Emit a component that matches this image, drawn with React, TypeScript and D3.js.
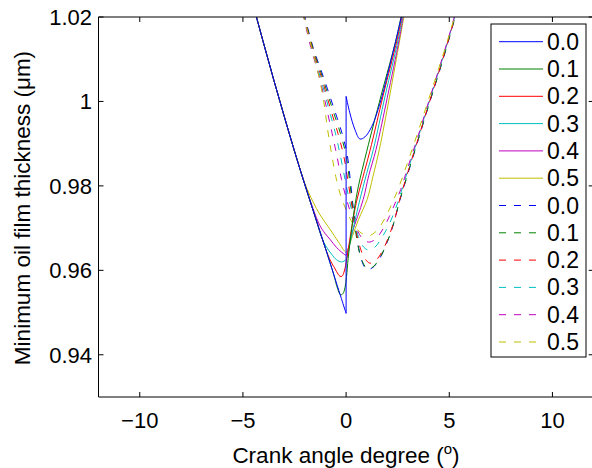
import React from 'react';
import * as d3 from 'd3';

const W = 592;
const H = 468;

const xTicks = [-10, -5, 0, 5, 10];
const xTickLabels = ['\u221210', '\u22125', '0', '5', '10'];
const yTicks = [0.94, 0.96, 0.98, 1.0, 1.02];
const yTickLabels = ['0.94', '0.96', '0.98', '1', '1.02'];
const legendLabels = ['0.0', '0.1', '0.2', '0.3', '0.4', '0.5'];
const seriesColors = ['#0000ff', '#008000', '#ff0000', '#00bfbf', '#bf00bf', '#bfbf00'];

// Solid curves
const solid00 = [[-4.5, 1.0228], [-4.0, 1.0138], [-3.5, 1.005], [-3.0, 0.9965], [-2.5, 0.9882], [-2.0, 0.9803], [-1.5, 0.9727], [-1.0, 0.9652], [-0.5, 0.9575], [0, 0.9498], [0, 1.0012], [0.18, 0.9973], [0.43, 0.9933], [0.67, 0.9911], [0.91, 0.9916], [1.24, 0.994], [1.64, 0.9995], [2.0, 1.0062], [2.35, 1.0132], [2.7, 1.0205]];
const solid01 = [[-4.5, 1.0228], [-4.0, 1.0138], [-3.5, 1.005], [-3.0, 0.9965], [-2.5, 0.9882], [-2.0, 0.9803], [-1.5, 0.9727], [-1.0, 0.9652], [-0.6, 0.959], [-0.42, 0.9558], [-0.27, 0.9542], [-0.15, 0.9545], [-0.05, 0.956], [0.02, 0.9585], [0.1, 0.9628], [0.25, 0.969], [0.4, 0.9745], [0.6, 0.98], [1.0, 0.9882], [1.7, 1.0015], [2.42, 1.0146], [2.68, 1.0205]];
const solid02 = [[-4.5, 1.0228], [-4.0, 1.0138], [-3.5, 1.005], [-3.0, 0.9965], [-2.5, 0.9882], [-2.0, 0.9803], [-1.5, 0.9727], [-1.0, 0.9652], [-0.75, 0.9622], [-0.6, 0.9609], [-0.46, 0.9597], [-0.3, 0.9586], [-0.2, 0.9586], [-0.1, 0.9596], [0, 0.9618], [0.1, 0.9648], [0.25, 0.9695], [0.5, 0.9762], [0.8, 0.9818], [1.16, 0.9884], [1.8, 1.0015], [2.47, 1.0146], [2.72, 1.0205]];
const solid03 = [[-4.5, 1.0228], [-4.0, 1.0138], [-3.5, 1.005], [-3.0, 0.9965], [-2.5, 0.9882], [-2.0, 0.9803], [-1.5, 0.9727], [-1.2, 0.968], [-0.95, 0.9655], [-0.7, 0.9638], [-0.46, 0.9625], [-0.22, 0.962], [0, 0.9626], [0.15, 0.9655], [0.35, 0.97], [0.67, 0.9768], [1.0, 0.983], [1.32, 0.9886], [1.9, 1.0015], [2.52, 1.0146], [2.75, 1.0205]];
const solid04 = [[-4.5, 1.0228], [-4.0, 1.0138], [-3.5, 1.005], [-3.0, 0.9965], [-2.5, 0.9882], [-2.0, 0.9804], [-1.6, 0.9746], [-1.27, 0.9706], [-1.03, 0.9688], [-0.79, 0.9674], [-0.46, 0.9654], [-0.14, 0.964], [0, 0.9636], [0.1, 0.965], [0.3, 0.969], [0.83, 0.9768], [1.1, 0.9825], [1.45, 0.9886], [2.0, 1.001], [2.57, 1.0146], [2.78, 1.0205]];
const solid05 = [[-4.5, 1.0228], [-4.0, 1.0138], [-3.5, 1.005], [-3.0, 0.9965], [-2.5, 0.9883], [-2.0, 0.9806], [-1.6, 0.9762], [-1.27, 0.9732], [-0.79, 0.9698], [-0.38, 0.9668], [0, 0.9643], [0.1, 0.9652], [0.3, 0.968], [0.6, 0.972], [1.02, 0.9768], [1.3, 0.9822], [1.61, 0.9886], [2.1, 1.001], [2.6, 1.0146], [2.82, 1.0205]];

// Dashed curves
const dashed00 = [[-2.05, 1.021], [-1.6, 1.0128], [-1.1, 1.0058], [-0.6, 0.9985], [-0.2, 0.9925], [0.05, 0.9875], [0.2, 0.9815], [0.32, 0.976], [0.45, 0.9705], [0.6, 0.9655], [0.78, 0.962], [1.0, 0.9602], [1.3, 0.9607], [1.65, 0.963], [2.0, 0.9668], [2.3, 0.971], [2.6, 0.9765], [3.0, 0.983], [3.5, 0.991], [4.0, 0.999], [4.5, 1.0068], [5.0, 1.015], [5.35, 1.0212]];
const dashed01 = [[-2.07, 1.021], [-1.62, 1.0128], [-1.15, 1.0058], [-0.68, 0.9985], [-0.28, 0.9925], [0.0, 0.9872], [0.16, 0.9815], [0.3, 0.9758], [0.43, 0.9705], [0.58, 0.9657], [0.78, 0.9622], [1.02, 0.9604], [1.3, 0.9608], [1.65, 0.9631], [2.0, 0.9668], [2.3, 0.9711], [2.6, 0.9766], [3.0, 0.9831], [3.5, 0.9911], [4.0, 0.9991], [4.5, 1.0069], [5.0, 1.0151], [5.35, 1.0213]];
const dashed02 = [[-2.08, 1.021], [-1.65, 1.0128], [-1.2, 1.0058], [-0.77, 0.9985], [-0.4, 0.9925], [-0.12, 0.9872], [0.08, 0.9815], [0.25, 0.9762], [0.42, 0.9712], [0.6, 0.9668], [0.85, 0.9633], [1.15, 0.9617], [1.45, 0.9624], [1.75, 0.9645], [2.05, 0.9678], [2.35, 0.972], [2.6, 0.9768], [3.0, 0.9834], [3.5, 0.9913], [4.0, 0.9993], [4.5, 1.0071], [5.0, 1.0153], [5.35, 1.0214]];
const dashed03 = [[-2.09, 1.021], [-1.68, 1.0128], [-1.25, 1.0058], [-0.85, 0.9985], [-0.52, 0.9925], [-0.28, 0.9872], [-0.05, 0.9815], [0.15, 0.9768], [0.38, 0.972], [0.6, 0.968], [0.85, 0.9655], [1.1, 0.9648], [1.4, 0.9655], [1.7, 0.9675], [2.05, 0.9705], [2.35, 0.974], [2.6, 0.9775], [3.0, 0.9838], [3.5, 0.9916], [4.0, 0.9996], [4.5, 1.0074], [5.0, 1.0155], [5.33, 1.0213]];
const dashed04 = [[-2.1, 1.021], [-1.71, 1.0128], [-1.3, 1.0058], [-0.95, 0.9985], [-0.68, 0.9925], [-0.45, 0.9872], [-0.22, 0.9815], [0.0, 0.9772], [0.35, 0.9718], [0.65, 0.9685], [0.9, 0.967], [1.15, 0.9667], [1.45, 0.9675], [1.75, 0.9695], [2.1, 0.9728], [2.4, 0.9762], [2.65, 0.9792], [3.0, 0.9845], [3.5, 0.992], [4.0, 0.9999], [4.5, 1.0077], [5.0, 1.0157], [5.32, 1.0213]];
const dashed05 = [[-2.1, 1.021], [-1.75, 1.0142], [-1.5, 1.0095], [-1.3, 1.0055], [-1.1, 1.0005], [-0.9, 0.9935], [-0.7, 0.9875], [-0.5, 0.9822], [-0.25, 0.9775], [0.05, 0.9738], [0.4, 0.9705], [0.75, 0.9688], [1.1, 0.9682], [1.4, 0.969], [1.75, 0.9712], [2.1, 0.9745], [2.5, 0.979], [3.0, 0.9858], [3.5, 0.993], [4.0, 1.0005], [4.5, 1.008], [5.0, 1.0158], [5.3, 1.0208]];

const solidSeries = [solid00, solid01, solid02, solid03, solid04, solid05];
const dashedSeries = [dashed00, dashed01, dashed02, dashed03, dashed04, dashed05];

const PL = 98.5;
const PR = 593.7;
const PT = 17;
const PB = 397;

const FONT = "'Liberation Sans', Arial, Helvetica, sans-serif";
const DASH = '7,8';

function splitRuns(pts: number[][]): number[][][] {
  const runs: number[][][] = [];
  let cur: number[][] = [pts[0]];
  for (let i = 1; i < pts.length; i++) {
    if (pts[i][0] === pts[i - 1][0]) {
      runs.push(cur);
      runs.push([pts[i - 1], pts[i]]);
      cur = [pts[i]];
    } else {
      cur.push(pts[i]);
    }
  }
  runs.push(cur);
  return runs.filter((r) => r.length > 1);
}

export default function App() {
  const x = d3.scaleLinear().domain([-12, 12]).range([PL, PR]);
  const y = d3.scaleLinear().domain([0.93, 1.02]).range([PB, PT]);
  const line = d3
    .line<number[]>()
    .x((d) => x(d[0]))
    .y((d) => y(d[1]))
    .curve(d3.curveCatmullRom.alpha(0.5));

  const tick = 5;
  const legX0 = 491;
  const legY0 = 24;
  const legW = 95;
  const legH = 333;
  const rowH = 27.3;
  const allLegend = [
    ...legendLabels.map((l, i) => ({ label: l, color: seriesColors[i], dashed: false })),
    ...legendLabels.map((l, i) => ({ label: l, color: seriesColors[i], dashed: true })),
  ];

  return (
    <svg
      width={W}
      height={H}
      style={{ position: 'absolute', left: 0, top: 0, background: '#fff' }}
      fontFamily={FONT}
    >
      <defs>
        <clipPath id="plotclip">
          <rect x={PL} y={PT} width={PR - PL} height={PB - PT} />
        </clipPath>
      </defs>
      <rect x={0} y={0} width={W} height={H} fill="#fff" />

      <g clipPath="url(#plotclip)">
        {dashedSeries.map((s, i) => (
          <path
            key={'d' + i}
            d={line(s) || ''}
            fill="none"
            stroke={seriesColors[i]}
            strokeWidth={1}
            strokeDasharray={DASH}
          />
        ))}
        {solidSeries
          .map((s, i) => ({ s, i }))
          .reverse()
          .map(({ s, i }) =>
            splitRuns(s).map((run, j) => (
              <path
                key={'s' + i + '_' + j}
                d={line(run) || ''}
                fill="none"
                stroke={seriesColors[i]}
                strokeWidth={1}
              />
            ))
          )}
      </g>

      {/* axes box */}
      <g stroke="#000" strokeWidth={1} fill="none">
        <line x1={PL} x2={PR} y1={PT} y2={PT} />
        <line x1={PL} x2={PR} y1={PB} y2={PB} />
        <line x1={PL} x2={PL} y1={PT} y2={PB} />
        <line x1={PR} x2={PR} y1={PT} y2={PB} />
        {xTicks.map((t) => (
          <g key={'xt' + t}>
            <line x1={x(t)} x2={x(t)} y1={PB} y2={PB - tick} />
            <line x1={x(t)} x2={x(t)} y1={PT} y2={PT + tick} />
          </g>
        ))}
        {yTicks.map((t) => (
          <g key={'yt' + t}>
            <line x1={PL} x2={PL + tick} y1={y(t)} y2={y(t)} />
            <line x1={PR} x2={PR - tick} y1={y(t)} y2={y(t)} />
          </g>
        ))}
      </g>

      {xTicks.map((t, i) => (
        <text key={'xl' + t} x={x(t)} y={428} textAnchor="middle" fontSize={22} fill="#000">
          {xTickLabels[i]}
        </text>
      ))}
      {yTicks.map((t, i) => (
        <text key={'yl' + t} x={92} y={y(t) + 8} textAnchor="end" fontSize={22} fill="#000">
          {yTickLabels[i]}
        </text>
      ))}

      <text x={346} y={463} textAnchor="middle" fontSize={22.5} fill="#000">
        Crank angle degree (
        <tspan fontSize={15} dy={-9}>o</tspan>
        <tspan dy={9}>)</tspan>
      </text>
      <text
        transform={`translate(30, 208) rotate(-90)`}
        textAnchor="middle"
        fontSize={22.5}
        fill="#000"
      >
        Minimum oil film thickness (μm)
      </text>

      {/* legend */}
      <rect x={legX0} y={legY0} width={legW} height={legH} fill="#fff" stroke="#000" strokeWidth={1} />
      {allLegend.map((e, i) => {
        const cy = legY0 + 17.7 + i * rowH;
        return (
          <g key={'lg' + i}>
            <line
              x1={499}
              x2={543}
              y1={cy}
              y2={cy}
              stroke={e.color}
              strokeWidth={1}
              strokeDasharray={e.dashed ? DASH : undefined}
            />
            <text x={547} y={cy + 8} fontSize={23} fill="#000">
              {e.label}
            </text>
          </g>
        );
      })}
    </svg>
  );
}
